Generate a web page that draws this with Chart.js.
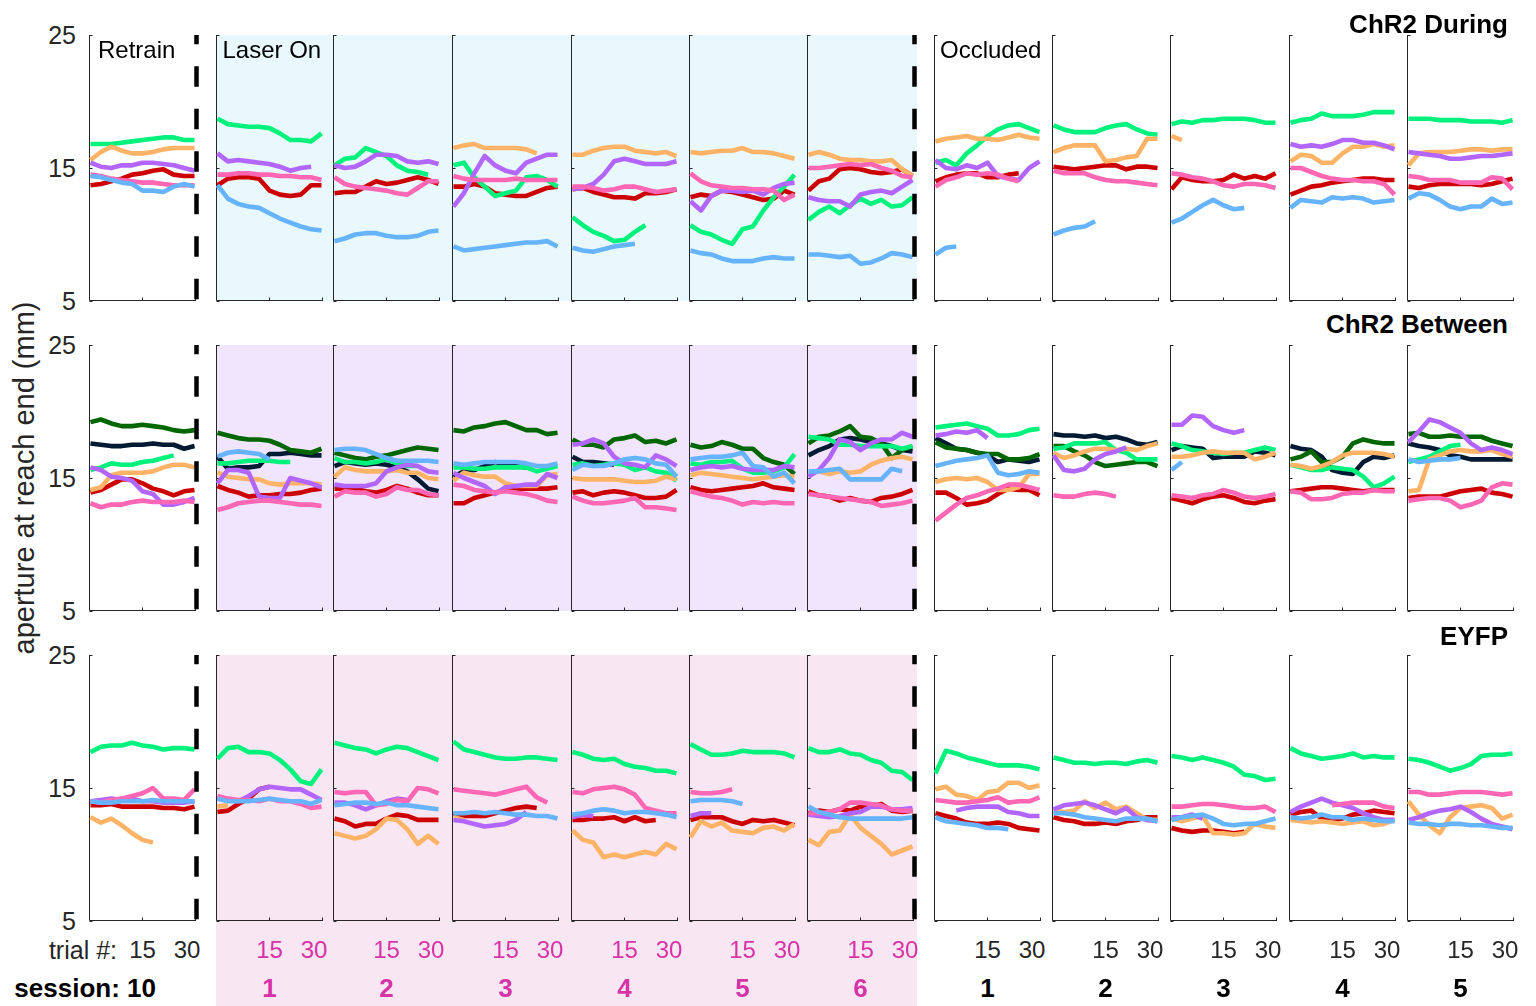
<!DOCTYPE html>
<html>
<head>
<meta charset="utf-8">
<title>Aperture at reach end</title>
<script src="https://cdn.jsdelivr.net/npm/chart.js@4.4.1/dist/chart.umd.min.js"></script>
<style>
  html, body { margin: 0; padding: 0; background: #fff; }
  #fig { position: relative; width: 1536px; height: 1006px; overflow: hidden;
         font-family: 'Liberation Sans', Arial, Helvetica, sans-serif; color: #262626; }
  #fig canvas { position: absolute; }
  .shade { position: absolute; }
  .txt { position: absolute; white-space: nowrap; line-height: 1; }
</style>
</head>
<body>
<div id="fig"></div>
<script>
// x positions (trial #) of the smoothed samples in every panel
const trialX = [-2.5, 1, 4.5, 8, 11.5, 15, 18.5, 22, 25.5, 29, 32.5];
const xTickValues = [15, 30];
const yTickValues = [5, 15, 25];
const sessionLabels = ['10', '1', '2', '3', '4', '5', '6', '1', '2', '3', '4', '5'];
const rowTitles = ['ChR2 During', 'ChR2 Between', 'EYFP'];

// one entry per panel: retrain 10, laser 1-6, occluded 1-5 (null = animal not shown)
const duringGreen = [
  [16.8, 16.8, 16.8, 16.9, 17.0, 17.1, 17.2, 17.3, 17.3, 17.1, 17.1],
  [18.7, 18.3, 18.2, 18.1, 18.1, 18.0, 17.6, 17.1, 17.1, 17.0, 17.6],
  [15.2, 15.7, 15.8, 16.5, 16.2, 15.9, 15.2, 14.8, 14.7, 14.5, null],
  [15.2, 15.4, 14.3, 13.6, 12.9, 13.1, 13.3, 14.3, 14.4, 14.1, 13.6],
  [11.3, 10.7, 10.2, 9.9, 9.5, 9.6, 10.2, 10.7, null, null, null],
  [10.7, 10.2, 10.0, 9.6, 9.3, 10.4, 10.6, 11.8, 12.8, 13.6, 14.5],
  [11.1, 11.7, 12.1, 11.6, 12.2, 12.7, 12.3, 12.6, 12.1, 12.2, 12.8],
  [15.4, 15.6, 15.2, 16.1, 16.7, 17.4, 17.9, 18.2, 18.3, 18.0, 17.7],
  [18.2, 17.9, 17.7, 17.7, 17.7, 18.0, 18.2, 18.3, 17.9, 17.6, 17.5],
  [18.3, 18.5, 18.4, 18.6, 18.6, 18.7, 18.7, 18.7, 18.6, 18.4, 18.4],
  [18.4, 18.6, 18.7, 19.1, 18.9, 18.9, 18.9, 19.0, 19.2, 19.2, 19.2],
  [18.7, 18.7, 18.7, 18.6, 18.6, 18.6, 18.5, 18.5, 18.5, 18.4, 18.6]
];
const duringOrange = [
  [15.6, 16.2, 16.6, 16.3, 16.1, 16.1, 16.2, 16.4, 16.5, 16.5, 16.5],
  null,
  null,
  [16.5, 16.7, 16.8, 16.5, 16.5, 16.5, 16.5, 16.4, 16.1, null, null],
  [16.0, 16.0, 16.3, 16.5, 16.6, 16.6, 16.3, 16.2, 16.1, 16.2, 15.9],
  [16.2, 16.1, 16.2, 16.3, 16.3, 16.5, 16.2, 16.2, 16.1, 15.9, 15.7],
  [16.0, 16.2, 16.0, 15.7, 15.6, 15.6, 15.5, 15.5, 15.6, 14.9, 14.4],
  [17.0, 17.2, 17.3, 17.4, 17.2, 17.2, 17.1, 17.3, 17.5, 17.3, 17.2],
  [16.2, 16.5, 16.7, 16.7, 16.7, 15.5, 15.6, 15.8, 15.9, 17.2, 17.2],
  [17.4, 17.1, null, null, null, null, null, null, null, null, null],
  [15.5, 16.0, 15.9, 15.4, 15.4, 16.1, 16.6, 16.6, 16.8, 16.6, 16.7],
  [15.2, 16.1, 16.2, 16.2, 16.2, 16.3, 16.4, 16.4, 16.3, 16.4, 16.4]
];
const duringPurple = [
  [15.4, 15.1, 15.0, 15.2, 15.2, 15.4, 15.4, 15.3, 15.2, 15.0, 14.8],
  [16.1, 15.5, 15.6, 15.5, 15.4, 15.3, 15.1, 14.8, 15.0, 15.1, null],
  [15.2, 15.0, 15.1, 15.5, 16.0, 16.0, 15.9, 15.5, 15.4, 15.5, 15.3],
  [12.1, 13.1, 14.6, 15.9, 15.2, 14.8, 14.6, 15.4, 15.7, 16.0, 16.0],
  [13.4, 13.5, 13.8, 14.5, 15.5, 15.7, 15.5, 15.3, 15.3, 15.3, 15.5],
  [12.5, 11.8, 12.9, 13.3, 13.3, 13.2, 13.3, 13.0, 13.5, 13.8, 13.9],
  [12.8, 12.6, 12.5, 12.5, 12.1, 13.0, 13.2, 13.3, 13.1, 13.6, 14.1],
  [15.6, 15.0, 14.9, 15.2, 15.0, 15.4, 14.4, 14.2, 14.1, 15.0, 15.5],
  null,
  null,
  [16.8, 16.6, 16.7, 16.6, 16.8, 17.1, 17.1, 16.9, 16.9, 16.7, 16.4],
  [16.2, 16.1, 16.0, 15.9, 15.7, 15.7, 15.8, 15.9, 15.9, 16.0, 16.1]
];
const duringPink = [
  [14.5, 14.4, 14.2, 14.1, 14.0, 13.9, 13.9, 13.8, 13.7, 13.7, 13.7],
  [14.5, 14.5, 14.6, 14.6, 14.5, 14.5, 14.4, 14.4, 14.3, 14.3, 14.1],
  [14.3, 13.8, 13.6, 13.5, 13.4, 13.3, 13.1, 13.0, 13.5, 14.0, 14.0],
  [14.4, 14.2, 14.1, 14.1, 14.1, 14.1, 14.2, 14.1, 14.1, 14.1, 14.1],
  [13.6, 13.6, 13.5, 13.3, 13.4, 13.6, 13.6, 13.4, 13.2, 13.3, 13.4],
  [14.6, 14.0, 13.7, 13.6, 13.5, 13.5, 13.4, 13.4, 13.3, 12.6, 13.0],
  [15.0, 15.0, 15.1, 15.2, 15.3, 15.2, 15.3, 15.0, 14.8, 14.4, 14.3],
  [13.6, 14.1, 14.3, 14.6, 14.5, 14.6, 14.5, 14.2, 14.0, null, null],
  [14.8, 14.6, 14.6, 14.6, 14.3, 14.1, 14.0, 14.0, 13.9, 13.8, 13.7],
  [14.6, 14.5, 14.3, 14.2, 14.0, 13.7, 13.6, 13.8, 13.8, 13.7, 13.5],
  [15.0, 15.0, 14.7, 14.4, 14.2, 14.1, 14.1, 14.0, 14.0, 13.8, 13.0],
  [14.4, 14.3, 14.1, 14.1, 14.1, 13.9, 13.9, 13.9, 14.3, 14.2, 13.4]
];
const duringRed = [
  [13.7, 13.8, 14.0, 14.2, 14.5, 14.6, 14.8, 14.9, 14.5, 14.4, 14.4],
  [13.7, 14.2, 14.3, 14.3, 14.2, 13.3, 13.0, 12.9, 13.0, 13.7, 13.7],
  [13.1, 13.2, 13.2, 13.6, 14.0, 13.8, 13.9, 14.1, 14.3, 14.1, 13.8],
  [13.6, 13.6, 13.8, 13.6, 13.1, 13.0, 12.9, 12.9, 13.2, 13.5, 13.6],
  [13.4, 13.5, 13.2, 13.0, 12.8, 12.8, 12.7, 13.1, 13.1, 13.2, 13.4],
  [12.8, 13.0, 12.9, 13.3, 13.2, 13.0, 12.8, 12.6, 12.7, 13.3, 13.0],
  [13.3, 14.0, 14.2, 14.9, 15.0, 14.9, 14.7, 14.6, 14.7, 14.9, 14.4],
  [14.0, 14.3, 14.5, 14.6, 14.6, 14.3, 14.3, 14.5, 14.6, null, null],
  [15.1, 15.0, 14.9, 15.0, 15.1, 15.2, 15.2, 14.9, 15.1, 15.1, 15.0],
  [13.4, 14.3, 14.1, 14.0, 14.0, 14.1, 14.5, 14.2, 14.4, 14.2, 14.6],
  [13.0, 13.3, 13.6, 13.7, 13.9, 14.0, 14.1, 14.2, 14.2, 14.1, 14.1],
  [13.6, 13.5, 13.7, 13.8, 13.8, 13.8, 13.8, 13.7, 13.8, 14.0, 14.2]
];
const duringBlue = [
  [14.4, 14.3, 14.1, 13.9, 13.8, 13.3, 13.3, 13.2, 13.6, 13.8, 13.6],
  [13.7, 12.7, 12.3, 12.1, 12.0, 11.6, 11.2, 10.9, 10.6, 10.4, 10.3],
  [9.5, 9.7, 10.0, 10.1, 10.1, 9.9, 9.8, 9.8, 9.9, 10.2, 10.3],
  [9.1, 8.8, 8.9, 9.0, 9.1, 9.2, 9.3, 9.4, 9.4, 9.5, 9.1],
  [9.0, 8.8, 8.7, 8.9, 9.1, 9.2, 9.3, null, null, null, null],
  [8.8, 8.6, 8.5, 8.2, 8.0, 8.0, 8.0, 8.2, 8.3, 8.2, 8.2],
  [8.5, 8.5, 8.4, 8.3, 8.4, 7.8, 7.9, 8.2, 8.6, 8.5, 8.3],
  [8.5, 9.0, 9.1, null, null, null, null, null, null, null, null],
  [10.0, 10.3, 10.5, 10.6, 11.0, null, null, null, null, null, null],
  [10.9, 11.2, 11.7, 12.2, 12.6, 12.2, 11.9, 12.0, null, null, null],
  [12.0, 12.6, 12.5, 12.4, 12.8, 12.7, 12.8, 12.7, 12.4, 12.5, 12.6],
  [12.7, 13.1, 13.0, 12.6, 12.1, 11.9, 12.1, 12.1, 12.7, 12.3, 12.4]
];

const betweenDarkGreen = [
  [19.2, 19.4, 19.1, 18.9, 18.9, 19.0, 18.9, 18.8, 18.6, 18.5, 18.6],
  [18.4, 18.2, 18.0, 17.9, 17.9, 17.8, 17.5, 17.1, 17.0, 16.9, 17.2],
  [16.9, 16.7, 16.5, 16.4, 16.6, 16.7, 16.9, 17.1, 17.3, 17.2, 17.1],
  [18.6, 18.5, 18.8, 18.9, 19.1, 19.2, 18.9, 18.6, 18.6, 18.3, 18.4],
  [17.9, 17.5, 17.5, 17.3, 17.9, 18.0, 18.2, 17.7, 17.8, 17.6, 17.9],
  [17.5, 17.3, 17.4, 17.7, 17.5, 17.2, 17.2, 16.5, 16.2, 16.0, 15.3],
  [17.6, 18.1, 18.2, 18.5, 18.9, 18.1, 18.0, 17.6, 16.5, 17.1, 17.4],
  [17.7, 17.3, 17.2, 17.1, 16.9, 16.8, 16.8, 16.4, 16.4, 16.5, 16.8],
  [17.4, 17.4, 17.0, 16.7, 16.2, 15.9, 16.0, 16.1, 16.2, 16.2, 15.9],
  null,
  [16.4, 16.6, 17.0, 16.2, 16.2, 16.6, 17.6, 17.9, 17.7, 17.6, 17.6],
  [18.3, 18.4, 18.1, 18.1, 18.2, 18.1, 18.1, 18.1, 17.8, 17.6, 17.4]
];
const betweenNavy = [
  [17.6, 17.5, 17.4, 17.4, 17.5, 17.5, 17.6, 17.5, 17.5, 17.2, 17.4],
  [16.6, 15.7, 15.8, 15.8, 15.9, 16.8, 16.8, 16.9, 16.8, 16.7, 16.7],
  [15.9, 16.2, 16.1, 16.0, 16.1, 16.0, 15.8, 15.5, 14.9, 14.2, 14.0],
  [15.1, 15.5, 15.6, 15.9, 16.2, 16.0, 15.9, 15.8, null, null, null],
  [16.6, 16.2, 16.2, 16.1, 16.0, null, null, null, null, null, null],
  null,
  [16.7, 17.1, 17.4, 17.9, 18.0, 17.9, 17.7, 17.6, 17.4, 17.1, 17.0],
  [18.0, 17.6, 17.2, 17.1, 16.9, 16.7, 16.2, 16.4, 16.3, 16.2, 16.4],
  [18.3, 18.2, 18.2, 18.1, 18.2, 18.0, 18.1, 17.9, 17.6, 17.5, 17.7],
  [17.1, 17.4, 17.3, 17.2, 16.5, 16.6, 16.6, 16.6, 17.0, 16.9, 16.7],
  [17.4, 17.2, 17.1, 16.6, 15.6, 15.4, 15.3, 16.2, 16.6, 16.5, 16.7],
  [17.6, 17.4, 17.3, 17.1, 16.7, 16.6, 16.4, 16.4, 16.4, 16.4, 16.4]
];
const betweenBlue = [
  null,
  [16.6, 16.9, 17.0, 16.9, 16.8, 16.4, null, null, null, null, null],
  [17.1, 17.2, 17.2, 17.1, 16.8, 16.5, 16.3, 16.3, 16.3, 16.3, 16.2],
  [16.1, 16.0, 16.1, 16.2, 16.2, 16.2, 16.2, 16.1, 15.9, 15.9, 16.1],
  [15.6, 16.0, 15.9, 15.9, 16.1, 16.4, 16.5, 16.4, 16.1, 16.0, 15.1],
  [16.4, 16.5, 16.6, 16.6, 16.7, 16.9, 15.9, 15.8, 15.1, 15.4, 14.6],
  [15.5, 15.5, 15.6, 15.7, 14.9, 14.9, 14.9, 14.9, 15.7, 15.5, null],
  [15.9, 16.1, 16.3, 16.4, 16.5, 16.7, 15.4, 15.2, 15.3, 15.5, 15.4],
  null,
  [15.6, 16.2, null, null, null, null, null, null, null, null, null],
  null,
  [16.4, 16.2, 16.3, 16.4, 16.4, 16.5, null, null, null, null, null]
];
const betweenGreen = [
  [15.6, 15.8, 16.1, 16.0, 16.0, 16.2, 16.3, 16.5, 16.7, null, null],
  [16.1, 16.1, 16.2, 16.3, 16.3, 16.3, 16.2, 16.2, null, null, null],
  [16.5, 16.2, 16.2, 16.1, 16.2, 16.4, 16.1, 15.9, 15.9, null, null],
  [15.8, 15.8, 15.7, 15.7, 15.8, 15.8, 15.8, 15.8, 15.5, 15.7, 15.9],
  [16.0, 16.1, 15.9, 16.0, 16.1, 16.0, 15.6, 15.8, 15.5, 15.4, 14.8],
  [16.1, 16.0, 16.2, 16.2, 16.3, 15.7, 15.4, 15.4, 15.5, 15.8, 16.8],
  [18.1, 18.0, 17.9, 17.5, 17.5, 17.4, 17.4, 17.4, 17.4, 17.2, 17.4],
  [18.8, 18.9, 19.0, 19.1, 18.9, 18.7, 18.2, 18.2, 18.3, 18.6, 18.7],
  [17.2, 17.3, 17.6, 17.6, 17.6, 17.7, 17.1, 16.9, 16.4, 16.4, 16.4],
  [17.6, 17.4, 17.1, 17.0, 16.9, 16.8, 16.9, 16.9, 17.1, 17.3, 17.1],
  [16.0, 15.8, 15.6, 15.6, 15.8, 15.7, 15.6, 15.1, 14.3, 14.6, 15.1],
  [16.2, 16.4, 16.6, 17.0, 17.4, 17.5, null, null, null, null, null]
];
const betweenOrange = [
  [14.1, 14.3, 15.2, 15.4, 15.4, 15.4, 15.5, 15.8, 16.0, 16.0, 15.8],
  [15.4, 15.1, 15.0, 14.9, 14.9, 14.6, 14.5, 14.6, 14.6, 14.6, 14.5],
  [15.1, 15.8, 15.6, 15.5, 15.5, 15.5, 15.6, 15.4, 15.4, 15.0, 14.9],
  [14.8, 15.4, 15.2, 15.1, 15.1, 14.6, 14.4, 14.4, 14.4, 15.2, 15.3],
  [15.0, 14.9, 14.9, 14.9, 14.9, 14.8, 14.7, 14.7, 14.8, 15.1, 14.9],
  [15.2, 15.4, 15.3, 15.2, 15.1, 15.0, 14.9, 15.0, 15.1, 15.2, 15.1],
  [15.3, 15.5, 15.3, 15.5, 15.4, 15.5, 16.0, 16.3, 16.5, 16.6, 16.4],
  [14.7, 14.9, 15.0, 14.9, 15.0, 14.7, 14.1, 14.1, 14.3, 15.3, 15.3],
  [16.9, 16.5, 16.7, 17.0, 17.2, 17.2, 17.1, 17.2, 17.1, 17.4, 17.6],
  [16.6, 16.6, 16.7, 16.9, 17.0, 16.9, 16.9, 16.9, 16.4, 16.6, 16.9],
  [16.0, 15.9, 15.7, 15.9, 16.2, 16.7, 16.9, 16.9, 16.9, 16.8, 16.6],
  [14.0, 14.1, 16.4, 16.7, 17.0, 17.1, 17.0, 17.0, 17.1, 16.8, 16.6]
];
const betweenPurple = [
  [15.8, 15.6, 15.1, 15.0, 14.8, 14.0, 13.8, 13.0, 13.0, 13.2, 13.5],
  [14.6, 15.6, 15.6, 15.4, 13.6, 13.5, 13.5, 15.0, 14.8, 14.6, 14.3],
  [14.5, 14.4, 14.4, 14.4, 14.6, 15.5, 15.8, 16.0, 15.9, 15.5, 15.4],
  [15.4, 15.0, 14.7, 14.4, 13.8, 14.3, 14.4, 14.5, 14.5, 15.3, 15.0],
  [17.5, 17.6, 17.9, 17.6, 16.6, 16.1, 16.0, 15.8, 16.7, 16.4, 15.9],
  [15.6, 15.8, 15.9, 15.8, 15.9, 15.7, 15.6, 15.6, 15.6, 15.9, 15.8],
  [15.1, 15.6, 16.5, 17.9, 17.7, 17.1, 17.6, 17.9, 17.9, 18.4, 18.1],
  [18.2, 18.3, 18.5, 18.4, 18.6, 18.0, null, null, null, null, null],
  [16.7, 15.6, 15.5, 15.7, 16.4, 16.8, 17.0, 17.3, null, null, null],
  [19.0, 19.0, 19.7, 19.6, 18.9, 18.6, 18.4, 18.6, null, null, null],
  null,
  [17.7, 18.5, 19.4, 19.2, 18.8, 18.4, 17.6, 17.1, 17.3, 17.1, 16.8]
];
const betweenPink = [
  [13.1, 12.8, 13.0, 13.0, 13.2, 13.3, 13.2, 13.2, 13.2, 13.3, 13.2],
  [12.6, 12.8, 13.1, 13.2, 13.3, 13.3, 13.2, 13.1, 13.0, 13.0, 12.9],
  [13.6, 14.0, 13.9, 13.9, 13.6, 13.8, 14.3, 14.1, 14.1, 13.8, 13.7],
  [14.5, 14.4, 14.1, 14.0, 13.9, 14.0, 13.9, 13.8, 13.6, 13.3, 13.2],
  [13.6, 13.3, 13.1, 13.1, 13.2, 13.3, 13.5, 12.8, 12.8, 12.7, 12.6],
  [14.0, 13.8, 13.6, 13.5, 13.3, 13.0, 13.2, 13.1, 13.2, 13.1, 13.1],
  [13.8, 13.7, 13.6, 13.5, 13.4, 13.3, 13.2, 12.9, 13.0, 13.1, 13.3],
  [11.8, 12.4, 13.0, 13.5, 13.7, 14.0, 14.2, 14.5, 14.5, 14.3, 14.1],
  [13.7, 13.6, 13.6, 13.8, 13.9, 13.8, 13.6, null, null, null, null],
  [13.7, 13.6, 13.5, 13.7, 13.8, 14.1, 13.9, 13.6, 13.5, 13.6, 13.8],
  [14.0, 13.9, 13.4, 13.4, 13.5, 13.8, 13.9, 13.9, 14.1, 14.0, 14.0],
  [13.3, 13.4, 13.5, 13.5, 13.3, 12.8, 13.0, 13.3, 14.3, 14.6, 14.5]
];
const betweenRed = [
  [13.9, 14.1, 14.5, 14.9, 14.9, 14.6, 14.2, 14.0, 13.7, 14.0, 14.1],
  [14.4, 14.1, 13.9, 13.6, 13.7, 13.7, 13.8, 13.8, 13.9, 14.1, 14.2],
  [14.2, 14.2, 14.2, 14.0, 13.9, 14.1, 14.4, 14.2, 13.9, 13.7, 13.7],
  [13.1, 13.1, 13.5, 13.7, 13.9, 14.1, 14.2, 14.2, 14.2, 14.2, 14.3],
  [13.9, 14.0, 13.7, 13.9, 14.0, 13.9, 13.7, 13.5, 13.5, 13.6, 14.1],
  [14.3, 14.1, 14.0, 14.1, 14.2, 14.3, 14.4, 14.6, 14.3, 14.2, 14.1],
  [14.0, 13.7, 13.6, 13.3, 13.5, 13.3, 13.2, 13.5, 13.6, 13.8, 14.1],
  [13.9, 13.9, 13.5, 13.0, 13.1, 13.3, 13.8, 14.2, 14.1, 14.1, 13.7],
  null,
  [13.5, 13.3, 13.1, 13.4, 13.6, 13.7, 13.5, 13.2, 13.1, 13.3, 13.4],
  [14.0, 14.1, 14.2, 14.3, 14.3, 14.2, 14.1, 14.0, 14.1, 14.1, 14.1],
  [13.5, 13.6, 13.6, 13.6, 13.8, 14.0, 14.1, 14.2, 13.9, 13.8, 13.6]
];

const eyfpGreen = [
  [17.7, 18.1, 18.2, 18.2, 18.4, 18.2, 18.1, 17.9, 18.0, 18.0, 17.9],
  [17.2, 18.0, 18.1, 17.7, 17.7, 17.6, 17.1, 16.4, 15.5, 15.3, 16.4],
  [18.4, 18.2, 18.0, 17.9, 17.6, 17.9, 18.1, 18.0, 17.7, 17.4, 17.1],
  [18.5, 17.9, 17.7, 17.5, 17.3, 17.2, 17.2, 17.3, 17.3, 17.2, 17.1],
  [17.7, 17.5, 17.2, 17.1, 17.2, 16.8, 16.6, 16.5, 16.3, 16.3, 16.1],
  [18.3, 17.9, 17.5, 17.5, 17.6, 17.8, 17.7, 17.7, 17.7, 17.6, 17.3],
  [18.0, 17.7, 17.7, 17.9, 17.6, 17.5, 17.1, 16.9, 16.3, 16.2, 15.6],
  [16.1, 17.8, 17.6, 17.3, 17.1, 16.9, 16.7, 16.7, 16.7, 16.6, 16.4],
  [17.3, 17.1, 16.9, 16.9, 16.8, 16.9, 16.9, 16.8, 17.0, 17.1, 16.9],
  [17.4, 17.3, 17.1, 17.3, 17.1, 16.9, 16.6, 16.0, 15.9, 15.6, 15.7],
  [18.0, 17.6, 17.4, 17.2, 17.3, 17.4, 17.6, 17.3, 17.4, 17.3, 17.3],
  [17.2, 17.1, 16.9, 16.6, 16.3, 16.5, 16.8, 17.4, 17.5, 17.5, 17.6]
];
const eyfpPink = [
  [14.0, 13.9, 14.1, 14.2, 14.4, 14.6, 15.0, 14.2, 14.2, 14.1, 14.9],
  [14.4, 14.2, 14.1, 14.1, 14.0, 14.2, 14.0, 14.0, 13.8, 13.5, 13.6],
  [14.7, 14.6, 14.7, 14.7, 13.7, 13.8, 14.1, 14.0, 15.0, 14.9, 14.6],
  [14.9, 14.8, 14.7, 14.6, 14.5, 14.7, 14.9, 15.1, 14.3, 13.9, null],
  [14.7, 14.6, 14.9, 15.0, 15.1, 14.9, 14.5, 13.5, 13.3, 13.1, 13.1],
  [14.7, 14.6, 14.6, 14.7, 14.9, null, null, null, null, null, null],
  [13.1, 13.1, 13.2, 13.4, 13.9, 13.9, 13.8, 13.7, 13.4, 13.3, 13.3],
  [14.1, 14.0, 13.9, 13.9, 14.0, 14.1, 14.3, 13.9, 14.0, 14.0, 14.3],
  null,
  [13.6, 13.6, 13.7, 13.8, 13.8, 13.7, 13.6, 13.5, 13.5, 13.6, 13.2],
  [null, null, null, null, 13.7, 13.8, 13.9, 13.9, 13.9, 13.6, 13.5],
  [14.7, 14.7, 14.5, 14.5, 14.6, 14.7, 14.7, 14.7, 14.6, 14.5, 14.6]
];
const eyfpPurple = [
  [14.0, 14.1, 14.2, 14.1, 14.2, 14.0, 14.0, 13.9, 13.9, 13.9, 14.0],
  [14.2, 14.1, 14.0, 14.4, 14.9, 15.1, 15.0, 14.9, 14.9, 14.5, 14.1],
  [13.9, 13.9, 13.7, 13.4, 13.7, 14.0, 14.2, 14.1, null, null, null],
  [12.6, 12.5, 12.3, 12.1, 12.2, 12.3, 12.6, 13.2, null, null, null],
  [12.8, 13.0, 12.9, null, null, null, null, null, null, null, null],
  [12.9, 13.1, 13.1, null, null, null, null, null, null, null, null],
  [13.0, 12.9, 12.8, 12.9, 13.1, 13.2, 13.6, 13.6, 13.4, 13.4, 13.5],
  [null, null, 13.3, 13.5, 13.6, 13.6, 13.6, 13.2, 13.1, 12.9, 12.9],
  [13.4, 13.7, 13.8, 13.9, 13.7, 13.4, 13.1, 13.5, 12.8, 12.6, 12.5],
  [12.8, 12.8, 13.0, 12.7, null, null, null, null, null, null, null],
  [13.2, 13.6, 13.9, 14.2, 13.9, 13.7, 13.5, 13.1, 12.8, 12.6, 12.6],
  [12.6, 12.8, 13.1, 13.3, 13.4, 13.6, 13.2, 12.7, 12.3, 12.1, 11.9]
];
const eyfpBlue = [
  [14.0, 13.9, 13.9, 14.0, 14.0, 14.0, 14.1, 14.0, 14.0, 14.0, 14.0],
  [14.2, 14.0, 14.0, 14.0, 14.1, 14.2, 14.1, 14.0, 14.0, 13.8, 14.1],
  [13.7, 13.8, 13.9, 13.9, 13.8, 13.9, 13.7, 13.7, 13.6, 13.5, 13.4],
  [13.1, 13.1, 13.2, 13.1, 13.2, 13.1, 13.0, 13.0, 12.9, 12.9, 12.7],
  [13.0, 13.1, 13.3, 13.4, 13.3, 13.1, 13.2, 13.2, 13.1, 13.0, 12.8],
  [14.0, 14.1, 14.1, 14.1, 14.0, 13.8, null, null, null, null, null],
  [13.6, 13.2, 13.0, 12.8, 12.7, 12.7, 12.7, 12.7, 12.7, 12.7, 12.8],
  [12.8, 12.5, 12.4, 12.3, 12.2, 12.0, 12.0, 11.9, null, null, null],
  [13.1, 13.1, 13.0, 12.8, 12.7, 12.6, 12.5, 12.7, 12.7, 12.7, 12.5],
  [12.6, 12.8, 12.9, 13.0, 12.7, 12.3, 12.2, 12.3, 12.3, 12.5, 12.7],
  [12.8, 12.7, 12.8, 13.0, 12.8, 12.8, 12.6, 12.7, 12.6, 12.5, 12.5],
  [12.4, 12.3, 12.3, 12.2, 12.3, 12.3, 12.2, 12.2, 12.1, 12.0, 12.0]
];
const eyfpRed = [
  [13.7, 13.7, 13.8, 13.6, 13.6, 13.6, 13.6, 13.5, 13.5, 13.4, 13.6],
  [13.2, 13.3, 13.8, 14.2, 14.9, 15.1, null, null, null, null, null],
  [12.7, 12.5, 12.1, 12.3, 12.3, 12.7, 13.0, 12.9, 12.6, 12.6, 12.6],
  [13.1, 12.9, 12.9, 12.9, 13.1, 13.3, 13.5, 13.6, 13.5, null, null],
  [12.6, 12.6, 12.7, 12.7, 12.8, 12.5, 12.8, 12.5, 12.6, null, null],
  [12.6, 12.8, 12.8, 12.8, 12.5, 12.3, 12.6, 12.5, 12.6, 12.4, 12.2],
  [13.1, 13.3, 13.2, 13.4, 13.3, 13.6, 13.6, 13.8, 13.3, 13.2, 13.3],
  [13.1, 12.9, 12.7, 12.4, 12.3, 12.3, 12.4, 12.3, 12.0, 11.9, 11.8],
  [12.8, 12.6, 12.5, 12.3, 12.3, 12.4, 12.3, 12.5, 12.6, 12.8, 12.8],
  [12.0, 11.8, 11.7, 11.8, 11.8, 11.7, 11.6, 11.7, null, null, null],
  [13.0, 13.2, 13.3, 12.7, 12.6, 12.7, 13.0, 13.1, 13.3, 13.2, 13.1],
  null
];
const eyfpOrange = [
  [12.8, 12.4, 12.7, 12.2, 11.6, 11.1, 10.9, null, null, null, null],
  [13.6, 13.7, null, null, null, null, null, null, null, null, null],
  [11.6, 11.4, 11.2, 11.4, 11.9, 12.7, 12.6, 11.9, 10.8, 11.4, 10.8],
  [12.8, 12.6, null, null, null, null, null, null, null, null, null],
  [11.8, 11.1, 10.9, 9.8, 10.0, 9.8, 10.0, 10.2, 10.0, 10.8, 10.4],
  [11.3, 12.5, 12.1, 12.4, 11.8, 11.7, 11.6, 12.0, 12.1, 11.8, 12.3],
  [11.1, 10.7, 11.7, 11.8, 13.0, 12.0, 11.4, 10.8, 10.0, 10.3, 10.6],
  [14.9, 15.1, 14.5, 14.4, 14.1, 14.7, 14.8, 15.4, 15.4, 15.0, 15.2],
  [13.3, 13.2, 13.3, 14.0, 13.5, 13.9, 13.4, 13.6, 13.1, 12.6, 12.6],
  [12.7, 12.5, 12.7, 12.9, 11.6, 11.6, 11.5, 11.6, 12.3, 12.1, 12.0],
  [12.6, 12.5, 12.4, 12.5, 12.4, 12.3, 12.4, 12.5, 12.2, 12.3, 12.6],
  [14.0, 13.0, 12.2, 11.6, 12.8, 13.5, 13.6, 13.7, 13.5, 12.7, 13.0]
];

const COLORS = {
  blue: '#66b3ff', pink: '#ff66b3', purple: '#b366ff', orange: '#ffb366',
  green: '#00f27c', red: '#cc0000', darkGreen: '#006600', navy: '#001a33'
};
const AXIS = '#262626';
const LASER_TEXT = '#d633a6';

const rows = [
  { shade: '#e8f8fc', lines: [['blue', duringBlue], ['pink', duringPink], ['purple', duringPurple],
      ['orange', duringOrange], ['green', duringGreen], ['red', duringRed]] },
  { shade: '#f0e5fc', lines: [['blue', betweenBlue], ['pink', betweenPink], ['purple', betweenPurple],
      ['orange', betweenOrange], ['green', betweenGreen], ['red', betweenRed],
      ['darkGreen', betweenDarkGreen], ['navy', betweenNavy]] },
  { shade: '#f9e6f3', lines: [['blue', eyfpBlue], ['pink', eyfpPink], ['purple', eyfpPurple],
      ['orange', eyfpOrange], ['green', eyfpGreen], ['red', eyfpRed]] }
];

// page layout
const PANEL_LEFT = [89, 216, 333, 452, 571, 689, 807, 934, 1052, 1170, 1289, 1407];
const PANEL_W = 107, ROW_H = 266, PAD = 6, TICK = 3;
const ROW_TOP = [35, 345, 655];
const fig = document.getElementById('fig');

function addText(str, x, y, o = {}) {
  const el = document.createElement('div');
  el.className = 'txt';
  el.textContent = str;
  el.style.left = x + 'px';
  el.style.top = y + 'px';
  el.style.fontSize = (o.size || 24) + 'px';
  if (o.bold) el.style.fontWeight = 'bold';
  el.style.color = o.color || AXIS;
  const ax = o.align === 'right' ? '-100%' : o.align === 'left' ? '0' : '-50%';
  el.style.transform = `translate(${ax}, -50%)` + (o.rotate ? ` rotate(${o.rotate}deg)` : '');
  fig.appendChild(el);
}

// axes with inward ticks, plus the thick dashed divider after retrain / laser blocks
const panelFrame = {
  id: 'panelFrame',
  beforeDatasetsDraw(chart) {
    const { ctx, chartArea: a, scales: { x, y } } = chart;
    const lx = Math.round(a.left) + 0.5, by = Math.round(a.bottom) - 0.5;
    ctx.save();
    ctx.strokeStyle = AXIS;
    ctx.lineWidth = 1;
    ctx.beginPath();
    ctx.moveTo(lx, a.top);
    ctx.lineTo(lx, by);
    ctx.lineTo(a.right, by);
    yTickValues.forEach(v => {
      const py = Math.round(y.getPixelForValue(v)) + 0.5;
      ctx.moveTo(lx, py);
      ctx.lineTo(lx + TICK, py);
    });
    [15, x.max].forEach(v => {
      const px = Math.round(x.getPixelForValue(v)) - 0.5;
      ctx.moveTo(px, by);
      ctx.lineTo(px, by - TICK);
    });
    ctx.stroke();
    ctx.restore();
  },
  afterDatasetsDraw(chart, args, opts) {
    if (!opts.dashed) return;
    const { ctx, chartArea: a } = chart;
    ctx.save();
    ctx.strokeStyle = '#000';
    ctx.lineWidth = 4.5;
    ctx.setLineDash([20.6, 21.9]);
    ctx.lineDashOffset = 11.3;
    ctx.beginPath();
    ctx.moveTo(a.right + 0.5, a.top);
    ctx.lineTo(a.right + 0.5, a.bottom);
    ctx.stroke();
    ctx.restore();
  }
};

// shaded laser-on block behind each row
rows.forEach((row, r) => {
  const d = document.createElement('div');
  d.className = 'shade';
  d.style.background = row.shade;
  d.style.left = '216px';
  d.style.width = (917 - 216) + 'px';
  d.style.top = ROW_TOP[r] + 'px';
  d.style.height = (r === 2 ? 1006 - ROW_TOP[r] : ROW_H) + 'px';
  fig.appendChild(d);
});

rows.forEach((row, r) => {
  PANEL_LEFT.forEach((left, p) => {
    const canvas = document.createElement('canvas');
    canvas.width = PANEL_W + 2 * PAD;
    canvas.height = ROW_H + 2 * PAD;
    canvas.style.left = (left - PAD) + 'px';
    canvas.style.top = (ROW_TOP[r] - PAD) + 'px';
    canvas.style.width = canvas.width + 'px';
    canvas.style.height = canvas.height + 'px';
    fig.appendChild(canvas);

    const datasets = row.lines
      .filter(([, series]) => series[p])
      .map(([name, series]) => ({
        data: series[p].map((v, i) => ({ x: trialX[i], y: v })),
        borderColor: COLORS[name],
        borderWidth: 4.6,
        borderJoinStyle: 'round',
        pointRadius: 0,
        tension: 0,
        fill: false,
        spanGaps: false
      }));

    const chart = new Chart(canvas, {
      type: 'line',
      data: { datasets },
      options: {
        responsive: false,
        animation: false,
        devicePixelRatio: 1,
        events: [],
        layout: { padding: PAD },
        plugins: {
          legend: { display: false },
          tooltip: { enabled: false },
          panelFrame: { dashed: p === 0 || p === 6 }
        },
        scales: {
          x: { type: 'linear', min: -3, max: 33, display: false },
          y: { type: 'linear', min: 5, max: 25, display: false }
        }
      },
      plugins: [panelFrame]
    });

    const ox = left - PAD, oy = ROW_TOP[r] - PAD;
    if (p === 0) {
      yTickValues.forEach(v => addText(String(v), 76, oy + chart.scales.y.getPixelForValue(v), { align: 'right', size: 25 }));
    }
    if (r === 2) {
      const laser = p >= 1 && p <= 6;
      const c = laser ? LASER_TEXT : AXIS;
      xTickValues.forEach(v => addText(String(v), ox + chart.scales.x.getPixelForValue(v), 949.5, { color: c }));
      if (p > 0) {
        const a = chart.chartArea;
        addText(sessionLabels[p], ox + (a.left + a.right) / 2, 987.5, { bold: true, size: 26, color: laser ? LASER_TEXT : '#000' });
      }
    }
  });
});

// titles and labels
rowTitles.forEach((t, r) => addText(t, 1508, [24, 324, 635.5][r], { align: 'right', bold: true, size: 26, color: '#000' }));
addText('Retrain', 98, 50, { align: 'left', color: '#000' });
addText('Laser On', 222.5, 50, { align: 'left', color: '#000' });
addText('Occluded', 940, 50, { align: 'left', color: '#000' });
addText('trial #:', 117, 949.5, { align: 'right', size: 25 });
addText('session: ' + sessionLabels[0], 156, 987.5, { align: 'right', bold: true, size: 26, color: '#000' });
addText('aperture at reach end (mm)', 23.5, 478, { size: 29, rotate: -90 });
</script>
</body>
</html>
